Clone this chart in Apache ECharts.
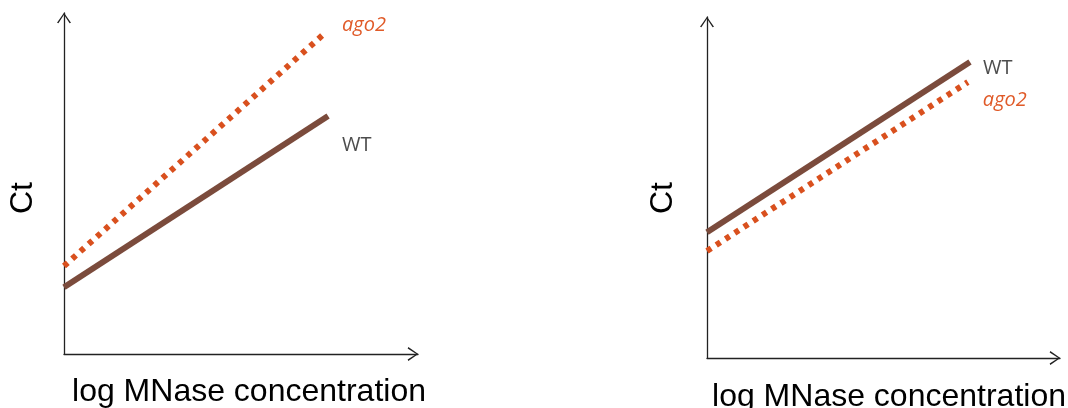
<!DOCTYPE html>
<html>
<head>
<meta charset="utf-8">
<script src="https://cdn.jsdelivr.net/npm/echarts@6/dist/echarts.min.js"></script>
<style>
html,body{margin:0;padding:0;background:#fff;}
#c{width:1068px;height:408px;}
</style>
</head>
<body>
<div id="c"></div>
<script>
// ---- data ----
const xTitle = 'log MNase concentration';
const yTitle = 'Ct';
const seriesNames = ['WT', 'ago2'];
// left panel
const leftWTx = [0, 74.6];
const leftWTy = [19.6, 69.8];
const leftAgoX = [0, 74.0];
const leftAgoY = [25.8, 94.4];
// right panel
const rightWTx = [0, 74.5];
const rightWTy = [36.9, 86.8];
const rightAgoX = [0, 73.9];
const rightAgoY = [31.4, 80.9];

const pair = (xs, ys) => xs.map((x, i) => [x, ys[i]]);

const AX = '#222';
const arrowPath = 'path://M0,10 L7,0 L14,10 L12.6,10.7 L7,2.1 L1.4,10.7 Z';
function axisLine() {
  return {
    show: true, onZero: true,
    symbol: ['none', arrowPath],
    symbolSize: [14, 10.7],
    symbolOffset: [0, -5],
    lineStyle: { color: AX, width: 1.3 }
  };
}
const titleFont = { fontFamily: 'Liberation Sans, Arial, sans-serif', fontSize: 32, color: '#000' };

function xAxis(idx, padLeft, gap) {
  return {
    type: 'value', gridIndex: idx, min: 0, max: 100,
    axisLine: axisLine(), axisTick: { show: false }, axisLabel: { show: false }, splitLine: { show: false },
    name: xTitle, nameLocation: 'middle', nameGap: gap,
    nameTextStyle: Object.assign({ padding: [0, 0, 0, padLeft], lineHeight: 32, verticalAlign: 'top' }, titleFont)
  };
}
function yAxis(idx, gap, padRight) {
  return {
    type: 'value', gridIndex: idx, min: 0, max: 100,
    axisLine: axisLine(), axisTick: { show: false }, axisLabel: { show: false }, splitLine: { show: false },
    name: yTitle, nameLocation: 'middle', nameGap: gap, nameRotate: 90,
    nameTextStyle: Object.assign({ padding: [0, padRight, 0, 0] }, titleFont)
  };
}
const labelFont = 'Open Sans, sans-serif';
function wtSeries(idx, data, off) {
  return {
    type: 'line', name: seriesNames[0], xAxisIndex: idx, yAxisIndex: idx, data: data,
    showSymbol: false, silent: true, animation: false,
    lineStyle: { color: '#7b4b3c', width: 6, cap: 'butt' },
    endLabel: { show: true, formatter: seriesNames[0], color: '#4d4d4d', fontFamily: labelFont, fontSize: 20,
      distance: 0, offset: off, align: 'left', verticalAlign: 'middle' }
  };
}
function agoSeries(idx, data, off) {
  return {
    type: 'line', name: seriesNames[1], xAxisIndex: idx, yAxisIndex: idx, data: data,
    showSymbol: false, silent: true, animation: false,
    lineStyle: { color: '#d9501e', width: 6, type: [5, 6], cap: 'butt' },
    endLabel: { show: true, formatter: seriesNames[1], color: '#e05a28', fontFamily: labelFont, fontSize: 20, fontStyle: 'italic',
      distance: 0, offset: off, align: 'left', verticalAlign: 'middle' }
  };
}

const chart = echarts.init(document.getElementById('c'), null, { renderer: 'canvas' });
chart.setOption({
  backgroundColor: '#fff',
  animation: false,
  grid: [
    { left: 64, top: 13, width: 354, height: 341, containLabel: false, outerBoundsMode: 'none' },
    { left: 707, top: 17, width: 353, height: 341, containLabel: false, outerBoundsMode: 'none' }
  ],
  xAxis: [xAxis(0, 16, 22), xAxis(1, 11, 23)],
  yAxis: [yAxis(0, 25, 29), yAxis(1, 28, 21)],
  series: [
    agoSeries(0, pair(leftAgoX, leftAgoY), [16, -7]),
    wtSeries(0, pair(leftWTx, leftWTy), [14, 29]),
    wtSeries(1, pair(rightWTx, rightWTy), [13, 6]),
    agoSeries(1, pair(rightAgoX, rightAgoY), [15, 18])
  ]
});
</script>
</body>
</html>
